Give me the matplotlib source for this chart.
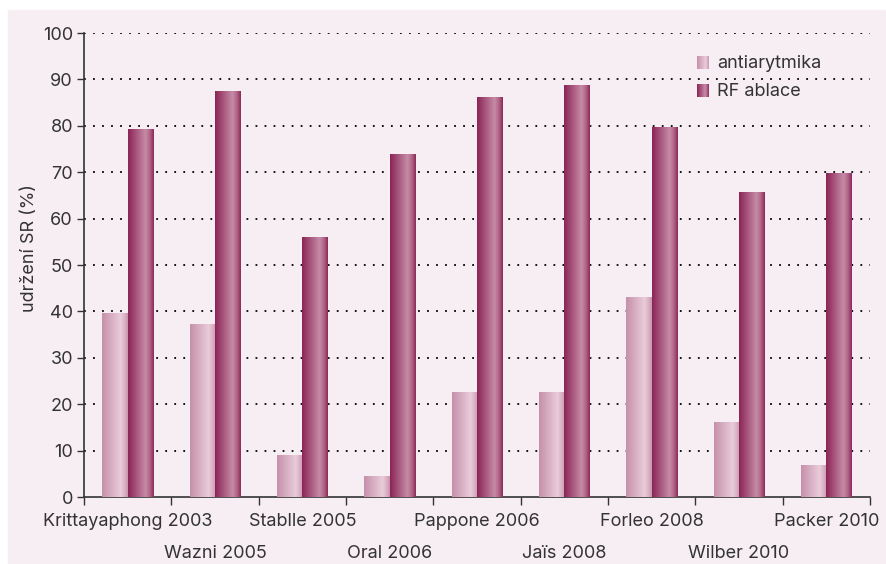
import matplotlib
matplotlib.use("Agg")
import matplotlib.pyplot as plt
from matplotlib.colors import LinearSegmentedColormap
from matplotlib.patches import Rectangle
import numpy as np

studies = ["Krittayaphong 2003", "Wazni 2005", "Stablle 2005", "Oral 2006",
           "Pappone 2006", "Jaïs 2008", "Forleo 2008", "Wilber 2010", "Packer 2010"]
antiarytmika = [39.7, 37.2, 9.0, 4.5, 22.6, 22.6, 43.0, 16.2, 7.0]
rf_ablace = [79.3, 87.5, 56.0, 74.0, 86.2, 88.8, 79.8, 65.8, 69.8]

plt.rcParams["font.family"] = ["Inter", "DejaVu Sans"]
text_col = "#333333"

cmap_anti = LinearSegmentedColormap.from_list(
    "anti", [(0, "#c690aa"), (0.72, "#e9ccda"), (0.88, "#dbb2c5"), (1, "#c895ad")])
cmap_rf = LinearSegmentedColormap.from_list(
    "rf", [(0, "#8b2556"), (0.68, "#c68ba7"), (0.85, "#b06587"), (1, "#8e2b5b")])
grad = np.linspace(0, 1, 64).reshape(1, -1)

fig = plt.figure(figsize=(8.87, 5.64), dpi=100)
fig.patch.set_facecolor("white")
fig.patches.append(Rectangle((8 / 887, 0), 877 / 887, 554 / 564,
                             transform=fig.transFigure, color="#f7eef3", zorder=-10))

ax = fig.add_axes([84 / 887, 67 / 564, 786 / 887, 464 / 564])
ax.set_facecolor("none")

n = len(studies)
x = np.arange(n) + 0.5
w = 0.29


def gradient_bars(bars, cmap):
    for r in bars:
        x0, y0 = r.get_x(), r.get_y()
        im = ax.imshow(grad, cmap=cmap, aspect="auto", zorder=3,
                       extent=[x0, x0 + r.get_width(), y0, y0 + r.get_height()])
        im.set_clip_path(r)


b1 = ax.bar(x - w / 2, antiarytmika, w, color="none", zorder=3)
b2 = ax.bar(x + w / 2, rf_ablace, w, color="none", zorder=3)
gradient_bars(b1, cmap_anti)
gradient_bars(b2, cmap_rf)

for v in range(10, 101, 10):
    ax.axhline(v, color="black", lw=1.3, dashes=(1, 4), zorder=1)

ax.set_yticks(range(0, 101, 10))
ax.tick_params(axis="y", direction="out", length=5, width=1, color=text_col,
               labelsize=13, labelcolor=text_col, pad=3)

# staggered category labels: odd ones on the axis, even ones on a second row
ax.set_xticks(x[::2])
ax.set_xticklabels(studies[::2], fontsize=13, color=text_col)
ax.tick_params(axis="x", which="major", length=0, pad=11.5)
ax.set_xticks(np.arange(0, n + 1), minor=True)
ax.tick_params(axis="x", which="minor", direction="out", length=6, width=1, color=text_col)

sec = ax.secondary_xaxis("bottom")
sec.set_xticks(x[1::2])
sec.set_xticklabels(studies[1::2], fontsize=13, color=text_col)
sec.tick_params(axis="x", length=0, pad=34.5)
sec.spines["bottom"].set_visible(False)

for s in ["top", "right"]:
    ax.spines[s].set_visible(False)
for s in ["left", "bottom"]:
    ax.spines[s].set_color(text_col)
    ax.spines[s].set_linewidth(1.2)

ax.set_ylabel("udržení SR (%)", fontsize=13, color=text_col)
ax.yaxis.set_label_coords(-0.058, 0.537)

# legend with gradient squares
for ly, name, cm in [(93.5, "antiarytmika", cmap_anti), (87.4, "RF ablace", cmap_rf)]:
    ax.imshow(grad, cmap=cm, aspect="auto", zorder=4,
              extent=[7.02, 7.157, ly - 1.3, ly + 1.3])
    ax.text(7.25, ly, name, fontsize=13, color=text_col, va="center", zorder=4)

ax.set_xlim(0, n)
ax.set_ylim(0, 100)

fig.savefig("out.png", dpi=100, facecolor=fig.get_facecolor())
